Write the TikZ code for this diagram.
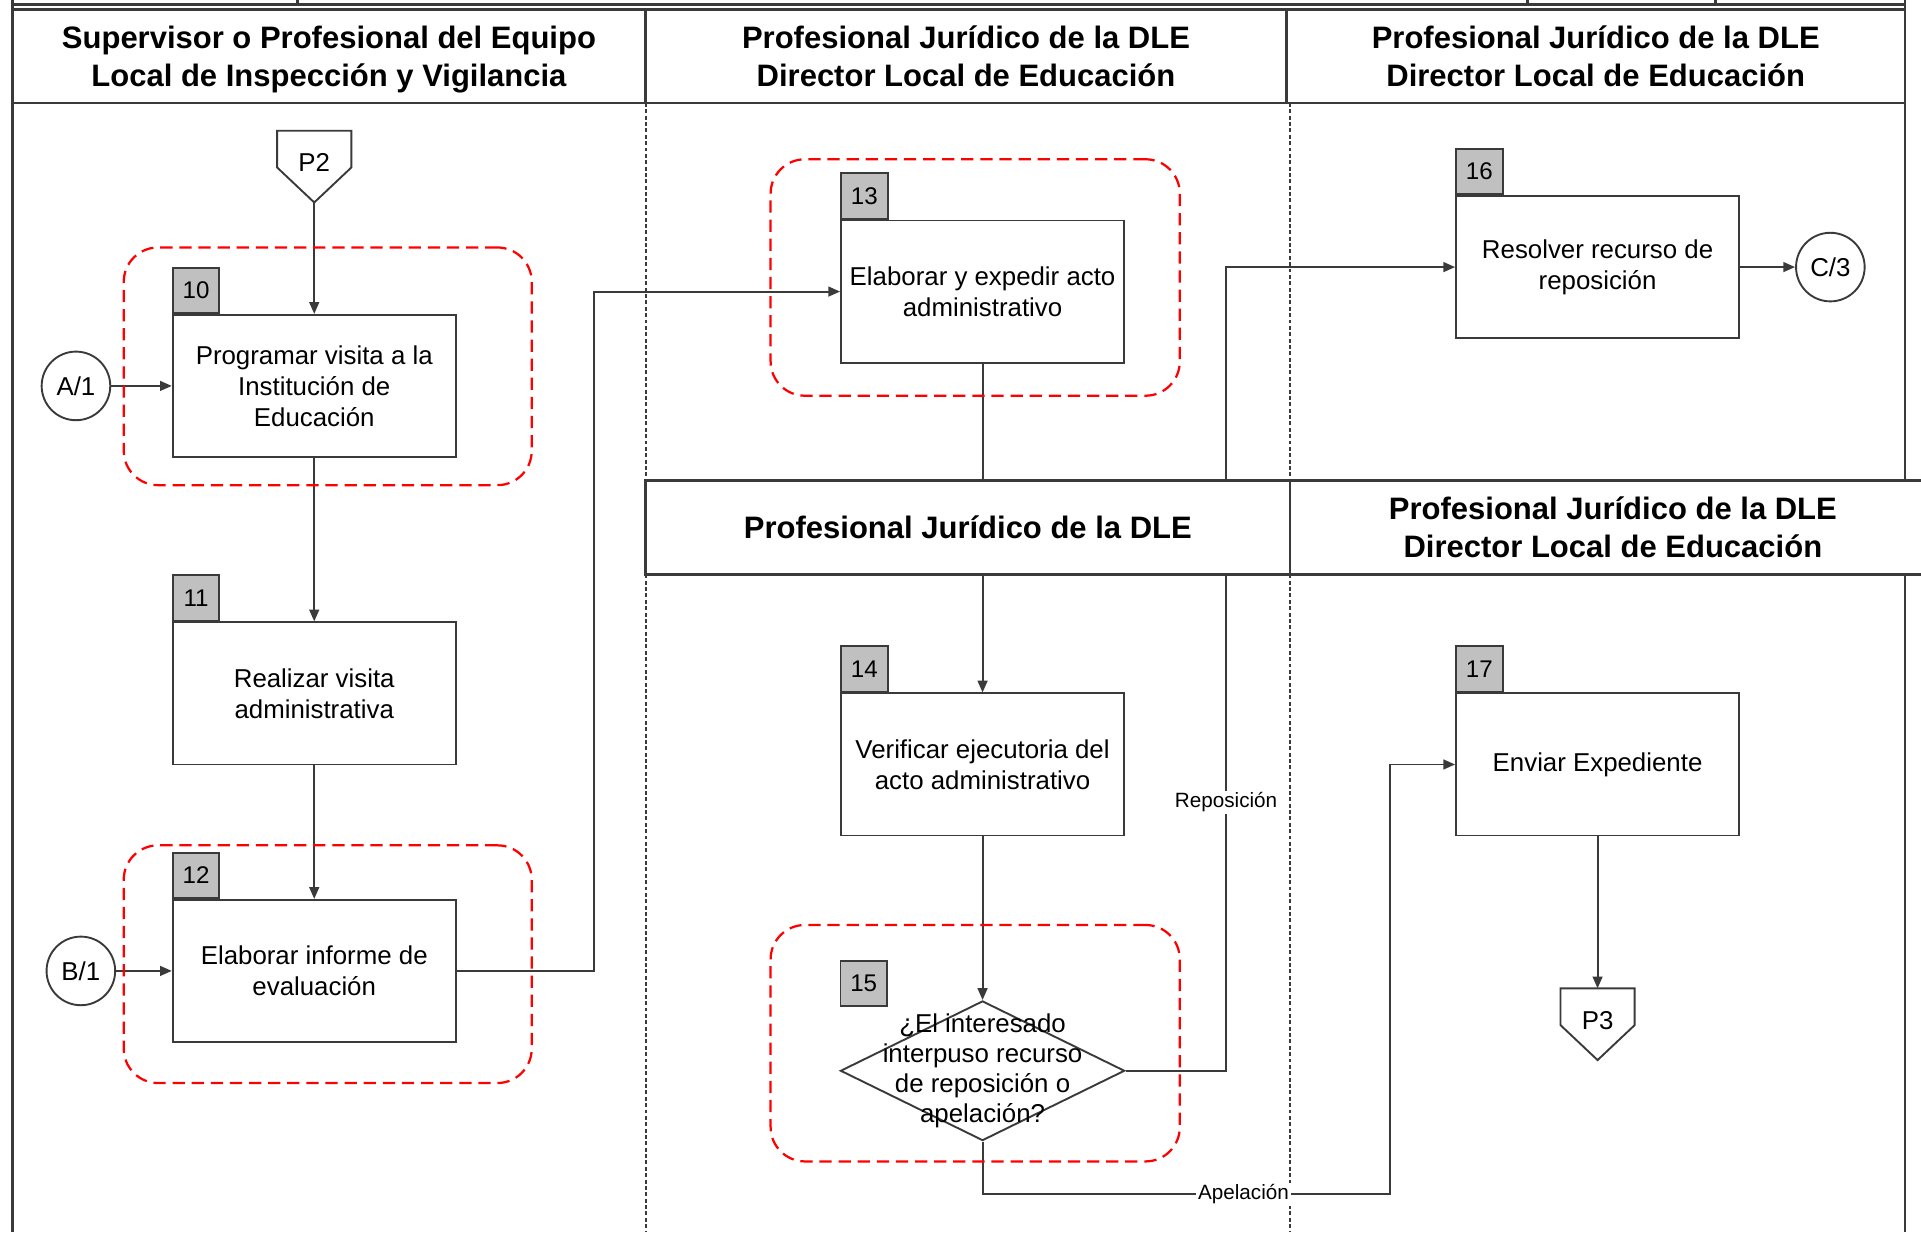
\documentclass[tikz,border=0pt]{standalone}
\usepackage{fontspec}
\setmainfont{Liberation Sans}
\usetikzlibrary{shapes.geometric, arrows.meta, positioning, calc}

\definecolor{linegray}{HTML}{3A3A3A}
\definecolor{tabgray}{HTML}{C0C0C0}
\definecolor{zonered}{HTML}{FF0000}

\newcommand{\headfont}{\fontsize{18}{22}\selectfont\bfseries}
\newcommand{\procfont}{\fontsize{15}{18}\selectfont}
\newcommand{\diamfont}{\fontsize{15}{17.4}\selectfont}
\newcommand{\tabfont}{\fontsize{14}{16}\selectfont}
\newcommand{\edgefont}{\fontsize{12}{14}\selectfont}
\newcommand{\headstrut}{\rule{0pt}{19.6pt}}

\begin{document}
\begin{tikzpicture}[node distance=2cm, >={Triangle[length=0.24cm,width=0.2cm]}]

  % Define styles
  \tikzstyle{lanehead} = [rectangle, draw=linegray, line width=1.6pt, fill=white, inner sep=0pt, align=center, font=\headfont]
  \tikzstyle{laneborder} = [draw=linegray, line width=1.6pt]
  \tikzstyle{divider} = [draw=linegray, line width=1pt, dash pattern=on 0.08cm off 0.05cm]
  \tikzstyle{process} = [rectangle, draw=linegray, line width=1.1pt, fill=white, minimum width=5.775cm, minimum height=2.9cm, inner sep=2pt, align=center, font=\procfont]
  \tikzstyle{numtab} = [rectangle, draw=linegray, line width=1.1pt, fill=tabgray, minimum width=0.95cm, minimum height=0.925cm, inner sep=0pt, font=\tabfont]
  \tikzstyle{decision} = [diamond, draw=linegray, line width=1.1pt, fill=white, minimum width=5.8cm, minimum height=2.85cm, inner sep=0pt]
  \tikzstyle{decisiontext} = [align=center, inner sep=0pt, font=\diamfont]
  \tikzstyle{connector} = [circle, draw=linegray, line width=1.1pt, fill=white, minimum size=1.4cm, inner sep=0pt, font=\procfont]
  \tikzstyle{offpage} = [rectangle, minimum width=1.5cm, minimum height=1.45cm, inner sep=0pt, font=\procfont]
  \tikzstyle{zone} = [rectangle, rounded corners=0.7cm, draw=zonered, line width=1.3pt, dash pattern=on 0.25cm off 0.14cm]
  \tikzstyle{line} = [draw=linegray, line width=1.1pt, ->]
  \tikzstyle{edgelabel} = [fill=white, inner sep=1pt, font=\edgefont]

  \useasboundingbox (0,0) rectangle (39.2,-25.15);

  % Lanes
  \draw[laneborder] (0.25,0) -- (0.25,-25.15);
  \draw[laneborder] (38.875,0) -- (38.875,-25.15);
  \draw[laneborder] (0.25,-0.0875) -- (38.875,-0.0875);
  \foreach \x in {6.075, 31.175, 35.0}
    \draw[laneborder] (\x,0) -- (\x,-0.0875);
  \draw[divider] (13.175,-2.1) -- (13.175,-25.15);
  \draw[divider] (26.325,-2.1) -- (26.325,-25.15);

  \node[lanehead, minimum width=12.925cm, minimum height=1.9cm] (h1) at (6.7125,-1.15) {\headstrut Supervisor o Profesional del Equipo\\\strut Local de Inspección y Vigilancia};
  \node[lanehead, minimum width=13.075cm, minimum height=1.9cm] (h2) at (19.7125,-1.15) {\headstrut Profesional Jurídico de la DLE\\\strut Director Local de Educación};
  \node[lanehead, minimum width=12.625cm, minimum height=1.9cm] (h3) at (32.5625,-1.15) {\headstrut Profesional Jurídico de la DLE\\\strut Director Local de Educación};

  % Place nodes
  \node [offpage] (p2) at (6.4125,-3.4) {\raisebox{0.16cm}{P2}};
  \node [process] (b10) at (6.4125,-7.875) {Programar visita a la\\Institución de\\Educación};
  \node [numtab, anchor=south west] (t10) at (b10.north west) {10};
  \node [connector, left of=b10, node distance=4.8625cm] (a1) {A/1};
  \node [process, below of=b10, node distance=6.275cm] (b11) {Realizar visita\\administrativa};
  \node [numtab, anchor=south west] (t11) at (b11.north west) {11};
  \node [process, below of=b11, node distance=5.6625cm] (b12) {Elaborar informe de\\evaluación};
  \node [numtab, anchor=south west] (t12) at (b12.north west) {12};
  \node [connector, left of=b12, node distance=4.7625cm] (b1) {B/1};

  \node [process] (b13) at (20.05,-5.95) {Elaborar y expedir acto\\administrativo};
  \node [numtab, anchor=south west] (t13) at (b13.north west) {13};
  \node [process, below of=b13, node distance=9.65cm] (b14) {Verificar ejecutoria del\\acto administrativo};
  \node [numtab, anchor=south west] (t14) at (b14.north west) {14};
  \node [decision, below of=b14, node distance=6.25cm, label={[decisiontext]center:{¿El interesado\\interpuso recurso\\de reposición o\\apelación?}}] (d15) {};
  \node [numtab, anchor=south west, yshift=1.3cm] (t15) at (d15.west) {15};

  \node [process] (b16) at (32.6,-5.45) {Resolver recurso de\\reposición};
  \node [numtab, anchor=south west] (t16) at (b16.north west) {16};
  \node [connector, right of=b16, node distance=4.75cm] (c3) {C/3};
  \node [process, below of=b16, node distance=10.15cm] (b17) {Enviar Expediente};
  \node [numtab, anchor=south west] (t17) at (b17.north west) {17};
  \node [offpage, below of=b17, node distance=5.3cm] (p3) {\raisebox{0.16cm}{P3}};

  % Off-page outlines
  \foreach \n in {p2, p3}
    \draw[draw=linegray, line width=1.1pt] (\n.north west) -- (\n.north east) -- ([yshift=-0.75cm]\n.north east) -- (\n.south) -- ([yshift=-0.75cm]\n.north west) -- cycle;

  % Draw edges
  \path [line] (p2.south) -- (b10.north);
  \path [line] (a1) -- (b10);
  \path [line] (b10) -- (b11);
  \path [line] (b11) -- (b12);
  \path [line] (b1) -- (b12);
  \path [line] (b12.east) -- ++(2.8,0) |- (b13.west);
  \path [line] (b13) -- (b14);
  \path [line] (b14) -- (d15);
  \path [line] (d15.east) -- ++(2.05,0) |- node[edgelabel, pos=0.167] {Reposición} (b16.west);
  \path [line] (d15.south) -- ++(0,-1.075) -| node[edgelabel, pos=0.32] {Apelación} ([xshift=-1.325cm]b17.west) -- (b17.west);
  \path [line] (b16) -- (c3);
  \path [line] (b17) -- (p3.north);

  % Zones
  \node [zone, minimum width=8.325cm, minimum height=4.85cm] (z10) at (6.6875,-7.475) {};
  \node [zone, minimum width=8.325cm, minimum height=4.85cm] (z12) at (6.6875,-19.675) {};
  \node [zone, minimum width=8.35cm, minimum height=4.825cm] (z13) at (19.9,-5.6625) {};
  \node [zone, minimum width=8.35cm, minimum height=4.825cm] (z15) at (19.9,-21.2875) {};

  % Second header row
  \node[lanehead, minimum width=13.15cm, minimum height=1.925cm] (h4) at (19.75,-10.7625) {Profesional Jurídico de la DLE};
  \node[lanehead, minimum width=13.175cm, minimum height=1.925cm] (h5) at (32.9125,-10.7625) {\headstrut Profesional Jurídico de la DLE\\\strut Director Local de Educación};

\end{tikzpicture}
\end{document}
